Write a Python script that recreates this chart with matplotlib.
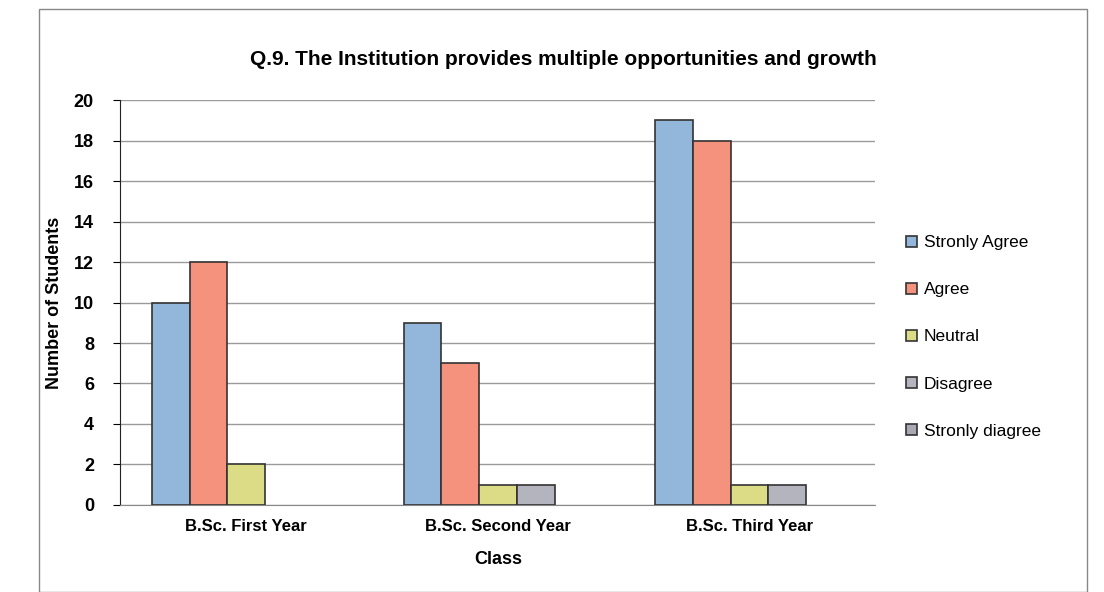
import matplotlib
matplotlib.use("Agg")
import matplotlib.pyplot as plt
from matplotlib.patches import Patch, Rectangle
import numpy as np

categories = ["B.Sc. First Year", "B.Sc. Second Year", "B.Sc. Third Year"]
series_names = ["Stronly Agree", "Agree", "Neutral", "Disagree", "Stronly diagree"]
strongly_agree = [10, 9, 19]
agree = [12, 7, 18]
neutral = [2, 1, 1]
disagree = [0, 1, 1]
strongly_disagree = [0, 0, 0]
yticks = list(range(0, 21, 2))

colors = ["#93B6DB", "#F4927E", "#DCDC86", "#B4B4BE", "#A9A9B2"]
fam = ["Liberation Sans", "DejaVu Sans"]

fig = plt.figure(figsize=(11.04, 5.92), dpi=100)
ax = fig.add_axes([0.109, 0.147, 0.684, 0.684])

x = np.arange(len(categories))
w = 0.15
all_series = [strongly_agree, agree, neutral, disagree, strongly_disagree]
handles = []
for i, (vals, name, c) in enumerate(zip(all_series, series_names, colors)):
    bars = ax.bar(x + (i - 2) * w, vals, width=w, color=c, edgecolor="#333333",
                  linewidth=1.2, zorder=3)
    for b, v in zip(bars, vals):
        if v == 0:
            b.set_linewidth(0)
    handles.append(Patch(facecolor=c, edgecolor="#333333", linewidth=1.2, label=name))

ax.set_xlim(-0.5, 2.5)
ax.set_ylim(0, 20)
ax.set_yticks(yticks)
ax.set_xticks(x)
ax.set_xticklabels(categories, fontsize=12, fontweight="bold", family=fam)
for lab in ax.get_yticklabels():
    lab.set_fontsize(13)
    lab.set_fontweight("bold")
    lab.set_family(fam)
ax.grid(axis="y", color="#9A9A9A", linewidth=1.0, zorder=0)
for s in ["top", "right"]:
    ax.spines[s].set_visible(False)
ax.spines["left"].set_color("#222222")
ax.spines["bottom"].set_color("#888888")
ax.tick_params(axis="x", length=0, pad=10)
ax.tick_params(axis="y", length=5, direction="out", pad=14)

ax.set_ylabel("Number of Students", fontsize=13, fontweight="bold", family=fam, labelpad=8)
ax.set_xlabel("Class", fontsize=13, fontweight="bold", family=fam, labelpad=12)
fig.text(0.51, 0.9, "Q.9. The Institution provides multiple opportunities and growth",
         ha="center", va="center", fontsize=15, fontweight="bold", family=fam)

leg = ax.legend(handles=handles, loc="center left", bbox_to_anchor=(1.02, 0.415),
                frameon=False, prop={"family": fam, "size": 12.5}, labelspacing=1.85,
                handlelength=0.6, handleheight=0.6, handletextpad=0.4)

fig.patches.append(Rectangle((0.035, 0.0), 0.95, 0.985,
                   transform=fig.transFigure, fill=False, edgecolor="#888888", linewidth=1.0))

fig.savefig("out.png", dpi=100)
